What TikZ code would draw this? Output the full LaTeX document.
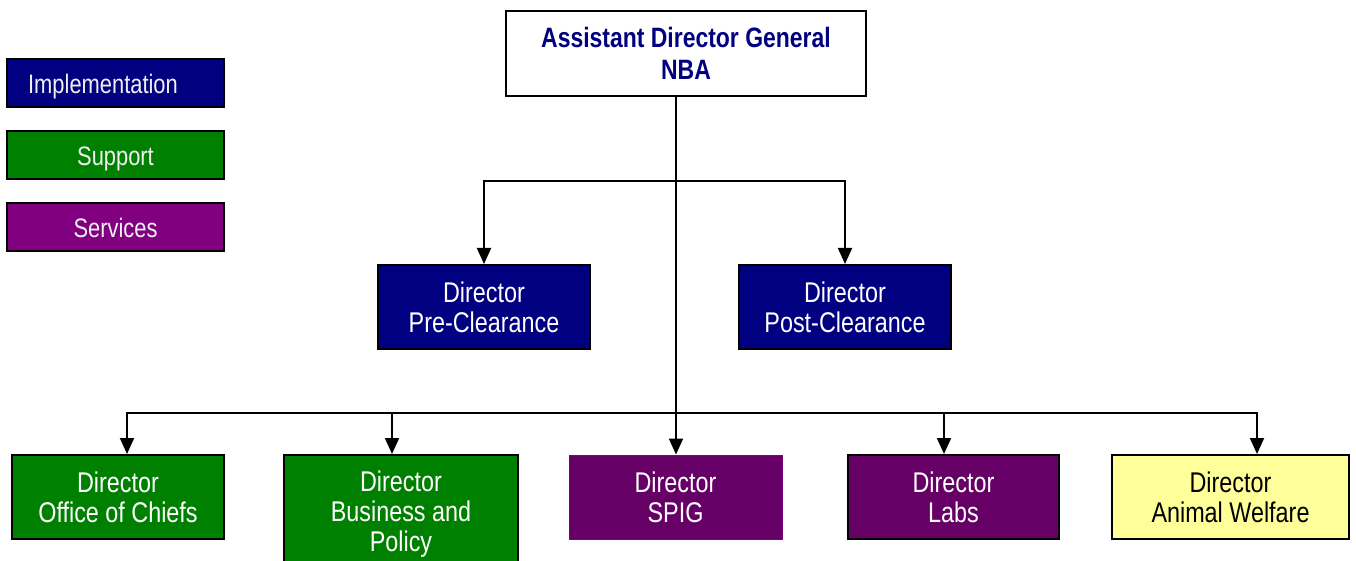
\documentclass[tikz,border=0pt]{standalone}
\usepackage{fontspec}
\setmainfont{Liberation Sans}[FakeStretch=0.82]
\usetikzlibrary{arrows.meta}
\definecolor{navy}{HTML}{000080}
\definecolor{dgreen}{HTML}{008000}
\definecolor{lpurple}{HTML}{800080}
\definecolor{dpurple}{HTML}{660066}
\definecolor{pyellow}{HTML}{FFFF99}
\tikzset{
  box/.style={draw=black, line width=2pt, inner sep=0pt, align=center,
    font=\fontsize{28.5}{30}\selectfont, text=white},
  impl/.style={box, fill=navy},
  supp/.style={box, fill=dgreen},
  serv/.style={box, fill=dpurple},
  legend/.style={box, minimum width=217pt, minimum height=48pt, text=white!94!black,
    font=\fontsize{26.7}{30}\selectfont, text height=27pt, text depth=5.5pt},
  conn/.style={line width=2pt, draw=black},
  arr/.style={conn, -{Triangle[width=14pt,length=16pt]}},
}
\begin{document}
\begin{tikzpicture}[x=1pt,y=-1pt]
\useasboundingbox (0,0) rectangle (1356,561);
\clip (0,0) rectangle (1356,561);
% legend
\node[legend, fill=navy] (limpl) at (115.5,83) {\hspace*{-25pt}Implementation};
\node[legend, fill=dgreen] (lsupp) at (115.5,155) {Support};
\node[legend, fill=lpurple] (lserv) at (115.5,227) {Services};
% top
\node[box, fill=white, text=navy, font=\fontsize{28}{32}\selectfont\bfseries, minimum width=360pt, minimum height=85pt] (adg) at (686,53.5) {Assistant Director General\\NBA};
% second level
\node[impl, minimum width=212pt, minimum height=84pt] (pre) at (484,307) {Director\\Pre-Clearance};
\node[impl, minimum width=212pt, minimum height=84pt] (post) at (845,307) {Director\\Post-Clearance};
% bottom level
\node[supp, minimum width=212pt, minimum height=84pt] (ofc) at (118,497) {Director\\Office of Chiefs};
\node[supp, minimum width=234pt, minimum height=118pt] (bp) at (401,514) {Director\\Business and\\Policy};
\node[serv, draw=lpurple, line width=1pt, minimum width=213pt, minimum height=84pt] (spig) at (675.5,497) {Director\\SPIG};
\node[serv, minimum width=211pt, minimum height=84pt] (labs) at (953.5,497) {Director\\Labs};
\node[box, fill=pyellow, text=black, minimum width=237pt, minimum height=84pt] (aw) at (1230.5,497) {Director\\Animal Welfare};
% connectors
\coordinate (b1) at (676,181);
\coordinate (b2) at (676,413);
\draw[conn] (adg.south -| b1) -- (b2);
\draw[arr] (b1) -| (pre.north);
\draw[arr] (b1) -| (post.north);
\draw[arr] (b2) -| ([xshift=9pt]ofc.north);
\draw[arr] (b2) -| ([xshift=-9pt]bp.north);
\draw[arr] (b2) -- (spig.north -| b2);
\draw[arr] (b2) -| ([xshift=-9.5pt]labs.north);
\draw[arr] (b2) -| ([xshift=26.5pt]aw.north);
\end{tikzpicture}
\end{document}
